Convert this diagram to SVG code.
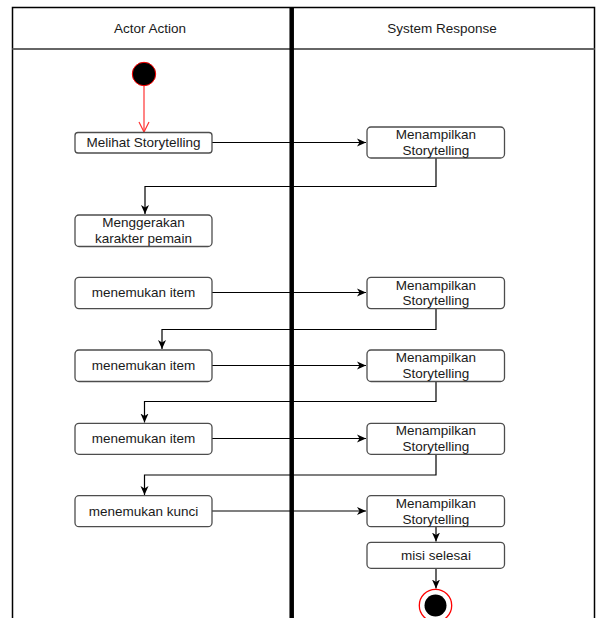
<svg xmlns="http://www.w3.org/2000/svg" width="597" height="618" viewBox="0 0 597 618">
<style>
.t{font-family:"Liberation Sans",Arial,sans-serif;font-size:13.5px;fill:#1a1a1a;text-anchor:middle;dominant-baseline:central}
.box{fill:#fff;stroke:#4d4d4d;stroke-width:1.3}
.c{fill:none;stroke:#000;stroke-width:1.2}
</style>
<defs>
<marker id="ah" markerWidth="10" markerHeight="10" refX="9" refY="5" orient="auto" markerUnits="userSpaceOnUse">
<path d="M0,1 L9,5 L0,9 L2.5,5 Z" fill="#000"/>
</marker>
<marker id="ar" markerWidth="12" markerHeight="12" refX="6" refY="11" orient="0" markerUnits="userSpaceOnUse">
<path d="M1,1 L6,11 L11,1" fill="none" stroke="#ff3333" stroke-width="1.2"/>
</marker>
</defs>
<g id="frame">
<rect x="12.5" y="7.5" width="582" height="620" fill="#fff" stroke="#000" stroke-width="1.5"/>
<line x1="12.5" y1="49" x2="594.5" y2="49" stroke="#666" stroke-width="1.8"/>
<line x1="291.7" y1="7.5" x2="291.7" y2="618" stroke="#000" stroke-width="4.5"/>
<text class="t" x="150" y="28">Actor Action</text>
<text class="t" x="442" y="28">System Response</text>
</g>
<g id="connectors">
<line x1="144" y1="86" x2="144" y2="132" stroke="#ff3333" stroke-width="1.2" marker-end="url(#ar)"/>
<path class="c" d="M212,142.5 H366" marker-end="url(#ah)"/>
<path class="c" d="M436,158 V186.5 H145 V214" marker-end="url(#ah)"/>
<path class="c" d="M212,292.5 H366" marker-end="url(#ah)"/>
<path class="c" d="M436,308.5 V329.5 H162 V349" marker-end="url(#ah)"/>
<path class="c" d="M212,365.5 H366" marker-end="url(#ah)"/>
<path class="c" d="M436,381.5 V401.5 H144.5 V422.5" marker-end="url(#ah)"/>
<path class="c" d="M212,438.5 H366" marker-end="url(#ah)"/>
<path class="c" d="M436,454.5 V475 H144.5 V495" marker-end="url(#ah)"/>
<path class="c" d="M212,511 H366" marker-end="url(#ah)"/>
<path class="c" d="M436,526.5 V541.5" marker-end="url(#ah)"/>
<path class="c" d="M436,568.5 V588.5" marker-end="url(#ah)"/>
</g>
<g id="start"><circle cx="144" cy="74" r="11.7" fill="#000" stroke="#ff0000" stroke-width="1"/></g>
<g id="n1"><rect class="box" x="75" y="132.5" width="137" height="20.5" rx="3"/><text class="t" x="143.5" y="142.7">Melihat Storytelling</text></g>
<g id="r1"><rect class="box" x="367" y="127" width="137.5" height="31" rx="4"/><text class="t" x="436" y="134.5">Menampilkan</text><text class="t" x="436" y="150">Storytelling</text></g>
<g id="n2"><rect class="box" x="75" y="215" width="137" height="31.5" rx="4"/><text class="t" x="143.5" y="222.7">Menggerakan</text><text class="t" x="143.5" y="238.3">karakter pemain</text></g>
<g id="n3"><rect class="box" x="75" y="277.3" width="137" height="31.3" rx="4"/><text class="t" x="143.5" y="292.3">menemukan item</text></g>
<g id="r2"><rect class="box" x="367" y="277.3" width="137.5" height="31.3" rx="4"/><text class="t" x="436" y="285">Menampilkan</text><text class="t" x="436" y="300.8">Storytelling</text></g>
<g id="n4"><rect class="box" x="75" y="350" width="137" height="31.5" rx="4"/><text class="t" x="143.5" y="365">menemukan item</text></g>
<g id="r3"><rect class="box" x="367" y="350" width="137.5" height="31.5" rx="4"/><text class="t" x="436" y="357.7">Menampilkan</text><text class="t" x="436" y="373.3">Storytelling</text></g>
<g id="n5"><rect class="box" x="75" y="423.3" width="137" height="31" rx="4"/><text class="t" x="143.5" y="438.3">menemukan item</text></g>
<g id="r4"><rect class="box" x="367" y="423.3" width="137.5" height="31" rx="4"/><text class="t" x="436" y="430.5">Menampilkan</text><text class="t" x="436" y="446">Storytelling</text></g>
<g id="n6"><rect class="box" x="75" y="495.7" width="137" height="31" rx="4"/><text class="t" x="143.5" y="511">menemukan kunci</text></g>
<g id="r5"><rect class="box" x="367" y="495.7" width="137.5" height="31" rx="4"/><text class="t" x="436" y="503.3">Menampilkan</text><text class="t" x="436" y="519">Storytelling</text></g>
<g id="r6"><rect class="box" x="367" y="542.3" width="137.5" height="26" rx="4"/><text class="t" x="436" y="555.5">misi selesai</text></g>
<g id="end"><circle cx="435.5" cy="605.5" r="16.2" fill="#fff" stroke="#ff0000" stroke-width="1.3"/><circle cx="435.5" cy="605.5" r="11" fill="#000"/></g>
</svg>
